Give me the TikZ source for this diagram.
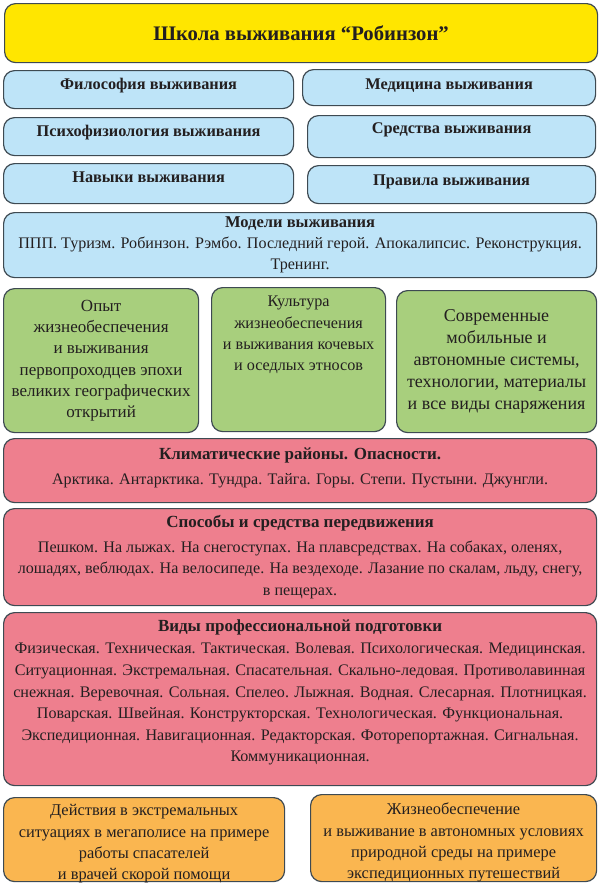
\documentclass[tikz,border=0pt]{standalone}
\usepackage{fontspec}
\setmainfont{Liberation Serif}
\usetikzlibrary{positioning}
\definecolor{ylwfill}{RGB}{255,230,0}
\definecolor{bluefill}{RGB}{190,228,248}
\definecolor{grnfill}{RGB}{168,207,125}
\definecolor{pnkfill}{RGB}{238,127,142}
\definecolor{orgfill}{RGB}{250,182,80}
\definecolor{edge}{RGB}{62,74,82}
\definecolor{txt}{RGB}{35,31,32}

\begin{document}
\begin{tikzpicture}[
  x=1pt, y=-1pt,
  box/.style={draw=edge, line width=1.2pt, rounded corners=11pt, align=center, inner sep=2pt, anchor=north west, text=txt},
  headbox/.style={box, fill=ylwfill, font=\bfseries\fontsize{20.7}{24}\selectfont},
  bluebox/.style={box, fill=bluefill, font=\bfseries\fontsize{16.3}{20}\selectfont},
  modelbox/.style={box, fill=bluefill, font=\fontsize{16.1}{21}\selectfont},
  greenbox/.style={box, fill=grnfill, font=\fontsize{17}{21.2}\selectfont},
  pinkbox/.style={box, fill=pnkfill, font=\fontsize{16.1}{21.6}\selectfont},
  orangebox/.style={box, fill=orgfill, font=\fontsize{16.4}{21.3}\selectfont, text depth=0pt}
]
\useasboundingbox (0,0) rectangle (600,886);
% title and the six topics
\node[headbox, minimum width=593, minimum height=59] (school) at (4,3) {Школа выживания “Робинзон”};
\node[bluebox, minimum width=290, minimum height=38, text depth=12pt] (philo) at (3,70) {Философия выживания};
\node[bluebox, minimum width=290, minimum height=38, text depth=12pt] (psycho) at (3,117) {Психофизиология выживания};
\node[bluebox, minimum width=290, minimum height=40, text depth=12pt] (skills) at (3,163) {Навыки выживания};
\node[bluebox, minimum width=293, minimum height=36, text depth=6pt] (medic) at (302,69) {Медицина выживания};
\node[bluebox, minimum width=288, minimum height=42, text depth=16pt] (means) at (307,115) {Средства выживания};
\node[bluebox, minimum width=288, minimum height=38, text depth=8pt] (rules) at (307,165) {Правила выживания};
\node[modelbox, minimum width=593, minimum height=65] (models) at (3,212) {{\bfseries\fontsize{16.5}{21}\selectfont Модели выживания}\\ППП. Туризм. Робинзон. Рэмбо. Последний герой. Апокалипсис. Реконструкция.\\Тренинг.};
% three sources of experience
\node[greenbox, minimum width=195, minimum height=144] (pioneers) at (3,288) {Опыт\\жизнеобеспечения\\и выживания\\первопроходцев эпохи\\великих географических\\открытий};
\node[greenbox, minimum width=174, minimum height=144, text depth=52pt, font=\fontsize{16.2}{21.3}\selectfont] (ethnos) at (211,287) {Культура\\жизнеобеспечения\\и выживания кочевых\\и оседлых этносов};
\node[greenbox, minimum width=200, minimum height=142, font=\fontsize{18}{22}\selectfont] (modern) at (396,290) {Современные\\мобильные и\\автономные системы,\\технологии, материалы\\и все виды снаряжения};
% environment, movement, training
\node[pinkbox, minimum width=593, minimum height=64, text depth=9pt] (climate) at (3,438) {{\bfseries\fontsize{17}{21}\selectfont Климатические районы. Опасности.}\\[3pt]Арктика. Антарктика. Тундра. Тайга. Горы. Степи. Пустыни. Джунгли.};
\node[pinkbox, minimum width=593, minimum height=97] (travel) at (3,508) {{\bfseries\fontsize{17}{21}\selectfont Способы и средства передвижения}\\[3pt]Пешком. На лыжах. На снегоступах. На плавсредствах. На собаках, оленях,\\лошадях, веблюдах. На велосипеде. На вездеходе. Лазание по скалам, льду, снегу,\\в пещерах.};
\node[pinkbox, minimum width=593, minimum height=173, text depth=17pt] (training) at (3,612) {{\bfseries\fontsize{17}{21}\selectfont Виды профессиональной подготовки}\\[1pt]Физическая. Техническая. Тактическая. Волевая. Психологическая. Медицинская.\\Ситуационная. Экстремальная. Спасательная. Скально-ледовая. Противолавинная\\снежная. Веревочная. Сольная. Спелео. Лыжная. Водная. Слесарная. Плотницкая.\\Поварская. Швейная. Конструкторская. Технологическая. Функциональная.\\Экспедиционная. Навигационная. Редакторская. Фоторепортажная. Сигнальная.\\Коммуникационная.};
% two practical settings
\node[orangebox, minimum width=281, minimum height=84, text height=80pt] (city) at (3,797) {Действия в экстремальных\\ситуациях в мегаполисе на примере\\работы спасателей\\и врачей скорой помощи};
\node[orangebox, minimum width=286, minimum height=87, text height=81pt] (nature) at (310,794) {Жизнеобеспечение\\и выживание в автономных условиях\\природной среды на примере\\экспедиционных путешествий};
\end{tikzpicture}
\end{document}
